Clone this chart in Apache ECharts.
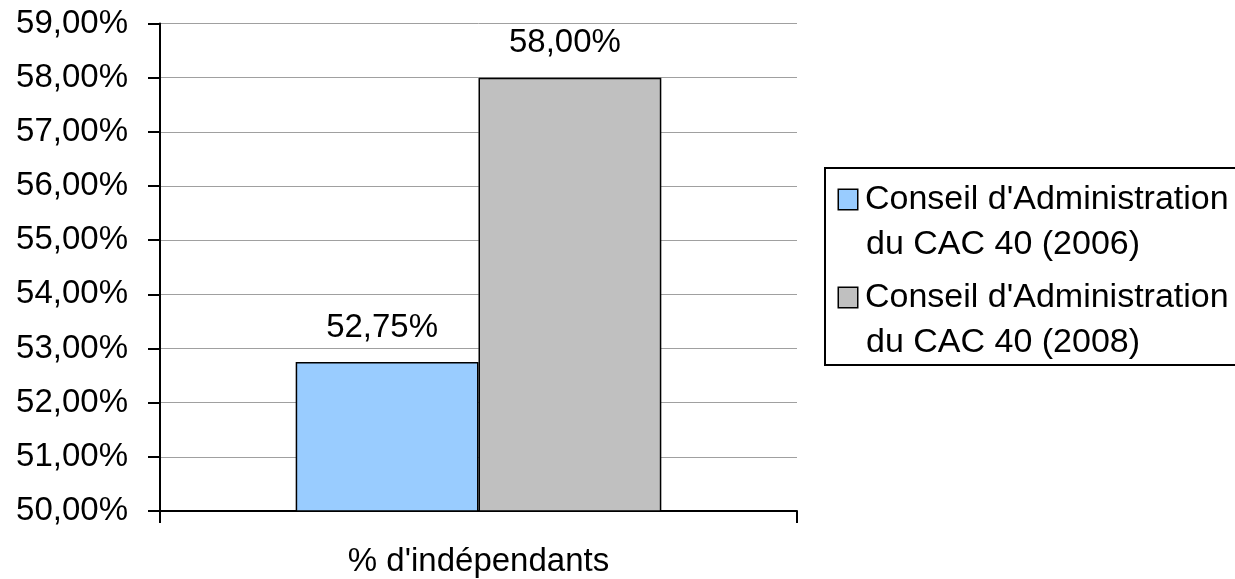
<!DOCTYPE html>
<html>
<head>
<meta charset="utf-8">
<script src="https://cdn.jsdelivr.net/npm/echarts@6/dist/echarts.min.js"></script>
<style>html,body{margin:0;padding:0;background:#fff}#c{width:1235px;height:579px}</style>
</head>
<body>
<div id="c"></div>
<script>
const categories = ["% d'indépendants"];
const seriesNames = ["Conseil d'Administration\ndu CAC 40 (2006)", "Conseil d'Administration\ndu CAC 40 (2008)"];
const values2006 = [52.75];
const values2008 = [58.00];
const seriesColors = ['#99ccff', '#c0c0c0'];
const yMin = 50, yMax = 59, yStep = 1;

const FONT = 'Liberation Sans, Arial, sans-serif';
const fmt = v => v.toFixed(2).replace('.', ',') + '%';

const chart = echarts.init(document.getElementById('c'), null, {renderer: 'canvas'});
chart.setOption({
  backgroundColor: '#fff',
  animation: false,
  textStyle: {fontFamily: FONT, color: '#000'},
  grid: {left: 160, right: 438, top: 23.5, bottom: 68, containLabel: false},
  legend: {
    left: 825, top: 168,
    orient: 'vertical',
    itemGap: 8,
    itemWidth: 0, itemHeight: 0,
    icon: 'rect',
    padding: [9, 30, 0, 8],
    borderColor: '#000', borderWidth: 2,
    data: seriesNames,
    formatter: function (name) {
      const idx = seriesNames.indexOf(name);
      const lines = name.split('\n');
      return '{b' + idx + '|}{t|' + lines[0] + '}\n{p|}{t|' + lines[1] + '}';
    },
    textStyle: {
      fontFamily: FONT, fontSize: 34, color: '#000', lineHeight: 45,
      rich: {
        b0: {width: 18, height: 19, backgroundColor: seriesColors[0], borderColor: '#000', borderWidth: 1.5, verticalAlign: 'middle'},
        b1: {width: 18, height: 19, backgroundColor: seriesColors[1], borderColor: '#000', borderWidth: 1.5, verticalAlign: 'middle'},
        p: {width: 19},
        t: {fontFamily: FONT, fontSize: 34, color: '#000', lineHeight: 45, padding: [0, 0, 0, 8]}
      }
    }
  },
  xAxis: {
    type: 'category',
    data: categories,
    axisLine: {show: true, lineStyle: {color: '#000', width: 2}},
    axisTick: {show: true, alignWithLabel: false, length: 12, lineStyle: {color: '#000', width: 2}},
    axisLabel: {fontFamily: FONT, fontSize: 33, color: '#000', margin: 34},
    splitLine: {show: false}
  },
  yAxis: {
    type: 'value',
    min: yMin, max: yMax, interval: yStep,
    axisLine: {show: true, lineStyle: {color: '#000', width: 2}},
    axisTick: {show: true, inside: false, length: 12, lineStyle: {color: '#000', width: 2}},
    axisLabel: {fontFamily: FONT, fontSize: 33, color: '#000', margin: 32, formatter: fmt},
    splitLine: {show: true, lineStyle: {color: '#a0a0a0', width: 1}}
  },
  series: [
    {
      name: seriesNames[0], type: 'bar', data: values2006,
      barGap: '0%', barCategoryGap: '42.6%',
      itemStyle: {color: seriesColors[0], borderColor: '#000', borderWidth: 1.5},
      label: {show: true, position: 'top', distance: 18, offset: [-5, 0], fontFamily: FONT, fontSize: 33, color: '#000', formatter: p => fmt(p.value)}
    },
    {
      name: seriesNames[1], type: 'bar', data: values2008,
      barGap: '0%', barCategoryGap: '42.6%',
      itemStyle: {color: seriesColors[1], borderColor: '#000', borderWidth: 1.5},
      label: {show: true, position: 'top', distance: 18, offset: [-5, 0], fontFamily: FONT, fontSize: 33, color: '#000', formatter: p => fmt(p.value)}
    }
  ]
});
</script>
</body>
</html>
